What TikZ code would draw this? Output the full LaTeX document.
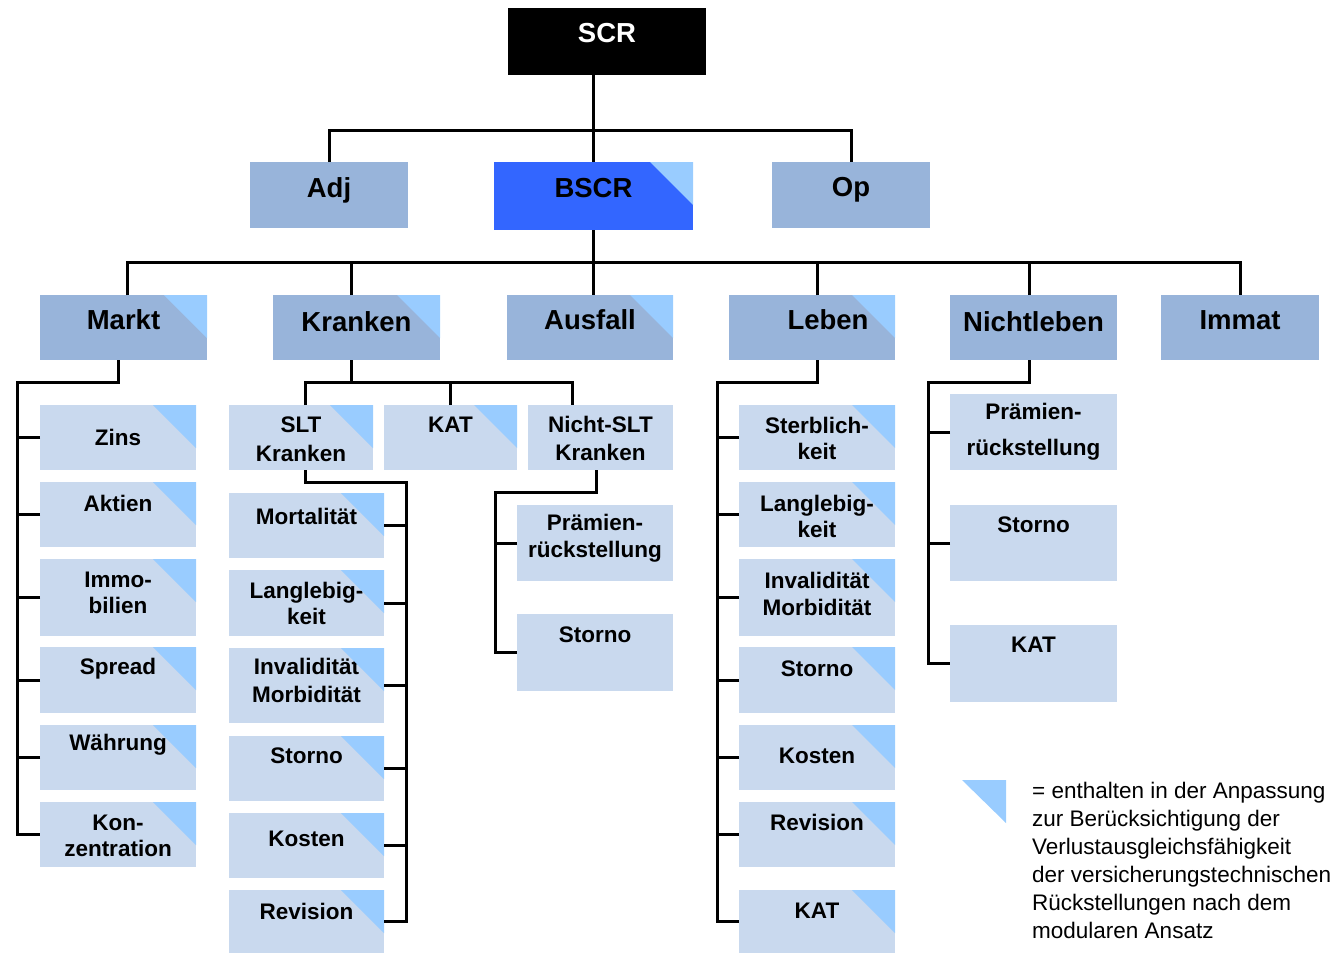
\documentclass[tikz,border=0pt]{standalone}
\usepackage{fontspec}
\setmainfont{Liberation Sans}
\definecolor{midblue}{RGB}{152,180,218}
\definecolor{lightblue}{RGB}{201,217,238}
\definecolor{triblue}{RGB}{153,204,255}
\definecolor{bscrblue}{RGB}{51,102,255}
\newcommand\mkbox[9]{%
  \node[#6,anchor=north west,minimum width={#4-#2},minimum height={#5-#3}] (#1) at (#2,#3) {};
  \node[#7] (#1-t) at ({(#2+#4)/2},#8) {#9};}
\newcommand\mytri[1]{\fill[triblue] ([xshift=-43pt]#1.north east) -- (#1.north east) -- ([yshift=-43pt]#1.north east) -- cycle;}
\begin{document}
\begin{tikzpicture}[x=1pt,y=-1pt,
  boxbase/.style={draw=none,inner sep=0pt,outer sep=0pt,rectangle},
  topbox/.style={boxbase,fill=black},
  bscrbox/.style={boxbase,fill=bscrblue},
  midbox/.style={boxbase,fill=midblue},
  subbox/.style={boxbase,fill=lightblue},
  txtA/.style={font=\bfseries\fontsize{27.5}{32}\selectfont,align=center,inner sep=0pt},
  txtW/.style={txtA,text=white},
  txtB/.style={font=\bfseries\fontsize{22.5}{26}\selectfont,align=center,inner sep=0pt},
  conn/.style={line width=3pt,draw=black}]
\useasboundingbox (0,0) rectangle (1333,953);

% top
\mkbox{scr}{508}{8}{706}{75}{topbox}{txtW}{33}{SCR}
\mkbox{adj}{250}{162}{408}{228}{midbox}{txtA}{190}{Adj}
\mkbox{bscr}{494}{162}{693}{230}{bscrbox}{txtA}{188}{BSCR}\mytri{bscr}
\mkbox{op}{772}{162}{930}{228}{midbox}{txtA}{190}{Op}

% level 1
\mkbox{markt}{40}{295}{207}{360}{midbox}{txtA}{320}{Markt}\mytri{markt}
\mkbox{kranken}{273}{295}{440}{360}{midbox}{txtA}{322}{Kranken}\mytri{kranken}
\mkbox{ausfall}{507}{295}{673}{360}{midbox}{txtA}{320}{Ausfall}\mytri{ausfall}
\node[midbox,anchor=north west,minimum width=166,minimum height=65] (leben) at (729,295) {};
\node[txtA] (leben-t) at (828,320) {Leben};\mytri{leben}
\mkbox{nleben}{950}{295}{1117}{360}{midbox}{txtA}{322}{Nichtleben}
\mkbox{immat}{1161}{295}{1319}{360}{midbox}{txtA}{320}{Immat}

% Markt subs
\mkbox{m1}{40}{405}{196}{470}{subbox}{txtB}{437}{Zins}\mytri{m1}
\mkbox{m2}{40}{482}{196}{547}{subbox}{txtB}{503}{Aktien}\mytri{m2}
\mkbox{m3}{40}{559}{196}{636}{subbox}{txtB}{592.5}{Immo-\\bilien}\mytri{m3}
\mkbox{m4}{40}{647}{196}{713}{subbox}{txtB}{669}{Spread}\mytri{m4}
\mkbox{m5}{40}{725}{196}{790}{subbox}{txtB}{745}{Währung}\mytri{m5}
\mkbox{m6}{40}{802}{196}{867}{subbox}{txtB}{835.5}{Kon-\\zentration}\mytri{m6}

% Kranken subs
\mkbox{k1}{229}{405}{373}{470}{subbox}{txtB}{439.5}{SLT\\[3pt]Kranken}\mytri{k1}
\mkbox{k2}{384}{405}{517}{470}{subbox}{txtB}{425}{KAT}\mytri{k2}
\mkbox{k3}{528}{405}{673}{470}{subbox}{txtB}{438}{Nicht-SLT\\[2pt]Kranken}

% SLT subs
\mkbox{s1}{229}{493}{384}{558}{subbox}{txtB}{516}{Mortalität}\mytri{s1}
\mkbox{s2}{229}{570}{384}{636}{subbox}{txtB}{603}{Langlebig-\\keit}\mytri{s2}
\mkbox{s3}{229}{648}{384}{723}{subbox}{txtB}{680}{Invalidität\\[2pt]Morbidität}\mytri{s3}
\mkbox{s4}{229}{736}{384}{801}{subbox}{txtB}{756}{Storno}\mytri{s4}
\mkbox{s5}{229}{813}{384}{878}{subbox}{txtB}{839}{Kosten}\mytri{s5}
\mkbox{s6}{229}{890}{384}{953}{subbox}{txtB}{911}{Revision}\mytri{s6}

% Nicht-SLT subs
\mkbox{n1}{517}{505}{673}{581}{subbox}{txtB}{538.5}{Prämien-\\[1pt]rückstellung}
\mkbox{n2}{517}{614}{673}{691}{subbox}{txtB}{635}{Storno}

% Leben subs
\mkbox{l1}{739}{405}{895}{470}{subbox}{txtB}{438}{Sterblich-\\keit}\mytri{l1}
\mkbox{l2}{739}{482}{895}{547}{subbox}{txtB}{516}{Langlebig-\\keit}\mytri{l2}
\mkbox{l3}{739}{559}{895}{636}{subbox}{txtB}{593.5}{Invalidität\\[1pt]Morbidität}\mytri{l3}
\mkbox{l4}{739}{647}{895}{713}{subbox}{txtB}{669}{Storno}\mytri{l4}
\mkbox{l5}{739}{725}{895}{790}{subbox}{txtB}{756}{Kosten}\mytri{l5}
\mkbox{l6}{739}{802}{895}{867}{subbox}{txtB}{822}{Revision}\mytri{l6}
\mkbox{l7}{739}{890}{895}{953}{subbox}{txtB}{911}{KAT}\mytri{l7}

% Nichtleben subs
\mkbox{g1}{950}{394}{1117}{470}{subbox}{txtB}{432}{Prämien-\\[10pt]rückstellung}
\mkbox{g2}{950}{505}{1117}{581}{subbox}{txtB}{525}{Storno}
\mkbox{g3}{950}{625}{1117}{702}{subbox}{txtB}{645}{KAT}

% connectors
\coordinate (bus0) at (0,130);
\draw[conn] (bscr.north |- scr.south) -- (bscr.north);
\draw[conn] (adj.north) |- (bus0 -| op.north) -- (op.north);
\coordinate (bus1) at (0,262);
\coordinate (markttop) at ([xshift=4pt]markt.north);
\coordinate (krtop) at ([xshift=-5pt]kranken.north);
\coordinate (lebtop) at ([xshift=5pt]leben.north);
\coordinate (nltop) at ([xshift=-4pt]nleben.north);
\draw[conn] (bscr.south) -- (bscr.south |- ausfall.north);
\draw[conn] (markttop) |- (bus1 -| immat.north) -- (immat.north);
\foreach \n in {krtop,lebtop,nltop} \draw[conn] (\n) -- (\n |- bus1);

\coordinate (msp) at (17,382);
\draw[conn] ([xshift=-5pt]markt.south) |- (msp) -- (msp |- m6.west) -- (m6.west);
\foreach \i in {1,...,5} \draw[conn] (m\i.west) -- (m\i.west -| msp);

\coordinate (kbus) at (0,382);
\coordinate (k3top) at ([xshift=-28pt]k3.north);
\coordinate (k1top) at ([xshift=4pt]k1.north);
\draw[conn] (krtop |- kranken.south) -- (krtop |- kbus);
\draw[conn] (k1top) |- (k3top |- kbus) -- (k3top);
\draw[conn] (k2.north) -- (k2.north |- kbus);

\coordinate (ssp) at (406,482);
\draw[conn] (k1top |- k1.south) |- (ssp) -- (ssp |- s6.east) -- (s6.east);
\foreach \i in {1,...,5} \draw[conn] (s\i.east) -- (s\i.east -| ssp);

\coordinate (nsp) at (495,492);
\draw[conn] ([xshift=-4pt]k3.south) |- (nsp) -- (nsp |- n2.west) -- (n2.west);
\draw[conn] (n1.west) -- (n1.west -| nsp);

\coordinate (lsp) at (717,382);
\draw[conn] (lebtop |- leben.south) |- (lsp) -- (lsp |- l7.west) -- (l7.west);
\foreach \i in {1,...,6} \draw[conn] (l\i.west) -- (l\i.west -| lsp);

\coordinate (gsp) at (928,382);
\draw[conn] (nltop |- nleben.south) |- (gsp) -- (gsp |- g3.west) -- (g3.west);
\foreach \i in {1,2} \draw[conn] (g\i.west) -- (g\i.west -| gsp);

% legend
\fill[triblue] (962,780) -- (1006,780) -- (1006,823) -- cycle;
\node[anchor=north west,inner sep=0pt,align=left,font=\fontsize{22.5}{28}\selectfont] (legend) at (1032,782)
 {= enthalten in der Anpassung\\zur Berücksichtigung der\\Verlustausgleichsfähigkeit\\der versicherungstechnischen\\Rückstellungen nach dem\\modularen Ansatz};
\end{tikzpicture}
\end{document}
